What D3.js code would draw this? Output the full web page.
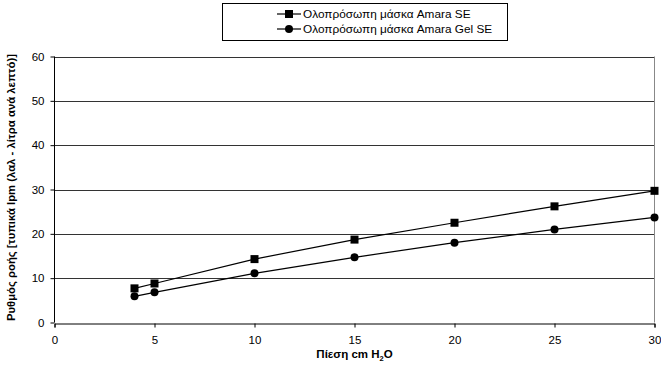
<!DOCTYPE html>
<html><head><meta charset="utf-8">
<script src="https://cdn.jsdelivr.net/npm/d3@7"></script>
<style>body{margin:0;background:#fff}svg{display:block;font-family:"Liberation Sans",Arial,sans-serif}</style>
</head><body><svg id="c" width="661" height="365"></svg>
<script>
const pressures = [4, 5, 10, 15, 20, 25, 30];
const amaraSE = [7.7, 8.8, 14.3, 18.7, 22.5, 26.2, 29.7];
const amaraGelSE = [5.9, 6.8, 11.1, 14.7, 18.0, 21.0, 23.7];
const seriesNames = ["Ολοπρόσωπη μάσκα Amara SE", "Ολοπρόσωπη μάσκα Amara Gel SE"];
const xTicks = [0, 5, 10, 15, 20, 25, 30];
const yTicks = [0, 10, 20, 30, 40, 50, 60];
const xTitle = "Πίεση cm H";
const yTitle = "Ρυθμός ροής [τυπικά lpm (λαλ - λίτρα ανά λεπτό)]";

const svg = d3.select("#c");
const x = d3.scaleLinear().domain([0, 30]).range([54.5, 654.5]);
const y = d3.scaleLinear().domain([0, 60]).range([322.5, 56.5]);

// gridlines
svg.append("g").selectAll("line").data(yTicks.filter(d => d > 0)).join("line")
  .attr("x1", x(0)).attr("x2", x(30)).attr("y1", d => Math.round(y(d)) + 0.5).attr("y2", d => Math.round(y(d)) + 0.5)
  .attr("stroke", "#333").attr("stroke-width", 1);
// right border
svg.append("line").attr("x1", x(30)).attr("x2", x(30)).attr("y1", y(60)).attr("y2", y(0)).attr("stroke", "#888");

// axes
const yAxis = d3.axisLeft(y).tickValues(yTicks).tickSize(4).tickPadding(6);
const gy = svg.append("g").attr("transform", `translate(${x(0)},0)`).call(yAxis);
const xAxis = d3.axisBottom(x).tickValues(xTicks).tickSize(4).tickPadding(8);
const gx = svg.append("g").attr("transform", `translate(0,${Math.round(y(0)) + 0.5})`).call(xAxis);
[gx, gy].forEach(g => {
  g.select(".domain").attr("stroke", "#000");
  g.selectAll(".tick line").attr("stroke", "#000");
  g.selectAll("text").attr("font-size", 11.5).attr("fill", "#000").attr("font-family", "Liberation Sans, Arial, sans-serif");
});
gx.selectAll(".tick line").attr("y1", 0);
gy.select(".domain").attr("d", `M0,${y(60)}V${y(0)}`);

// lines
const line = d3.line().x((d, i) => x(pressures[i])).y(d => y(d));
const data = [amaraSE, amaraGelSE];
data.forEach((s, k) => {
  svg.append("path").datum(s).attr("d", line).attr("fill", "none").attr("stroke", "#000").attr("stroke-width", 1.2);
  const g = svg.append("g");
  if (k === 0) {
    g.selectAll("rect").data(s).join("rect")
      .attr("x", (d, i) => x(pressures[i]) - 4).attr("y", d => y(d) - 4)
      .attr("width", 8).attr("height", 8).attr("fill", "#000");
  } else {
    g.selectAll("circle").data(s).join("circle")
      .attr("cx", (d, i) => x(pressures[i])).attr("cy", d => y(d)).attr("r", 4).attr("fill", "#000");
  }
});

// legend
const lg = svg.append("g");
lg.append("rect").attr("x", 222.5).attr("y", 3.5).attr("width", 285).attr("height", 37)
  .attr("fill", "#fff").attr("stroke", "#000");
seriesNames.forEach((n, i) => {
  const yy = 14 + i * 15;
  lg.append("line").attr("x1", 277).attr("x2", 301).attr("y1", yy).attr("y2", yy).attr("stroke", "#000").attr("stroke-width", 1.2);
  if (i === 0) lg.append("rect").attr("x", 285).attr("y", yy - 4).attr("width", 8).attr("height", 8).attr("fill", "#000");
  else lg.append("circle").attr("cx", 289).attr("cy", yy).attr("r", 4).attr("fill", "#000");
  lg.append("text").attr("x", 303).attr("y", yy + 4).attr("font-size", 11.8).text(n);
});

// axis titles
const xt = svg.append("text").attr("x", x(15)).attr("y", 358).attr("text-anchor", "middle")
  .attr("font-size", 11.5).attr("font-weight", "bold");
xt.append("tspan").text(xTitle);
xt.append("tspan").attr("font-size", 7.5).attr("dy", 3).text("2");
xt.append("tspan").attr("dy", -3).text("O");

svg.append("text").attr("transform", `translate(15,${y(30) - 2}) rotate(-90)`).attr("text-anchor", "middle")
  .attr("font-size", 11.3).attr("font-weight", "bold").text(yTitle);
</script></body></html>
